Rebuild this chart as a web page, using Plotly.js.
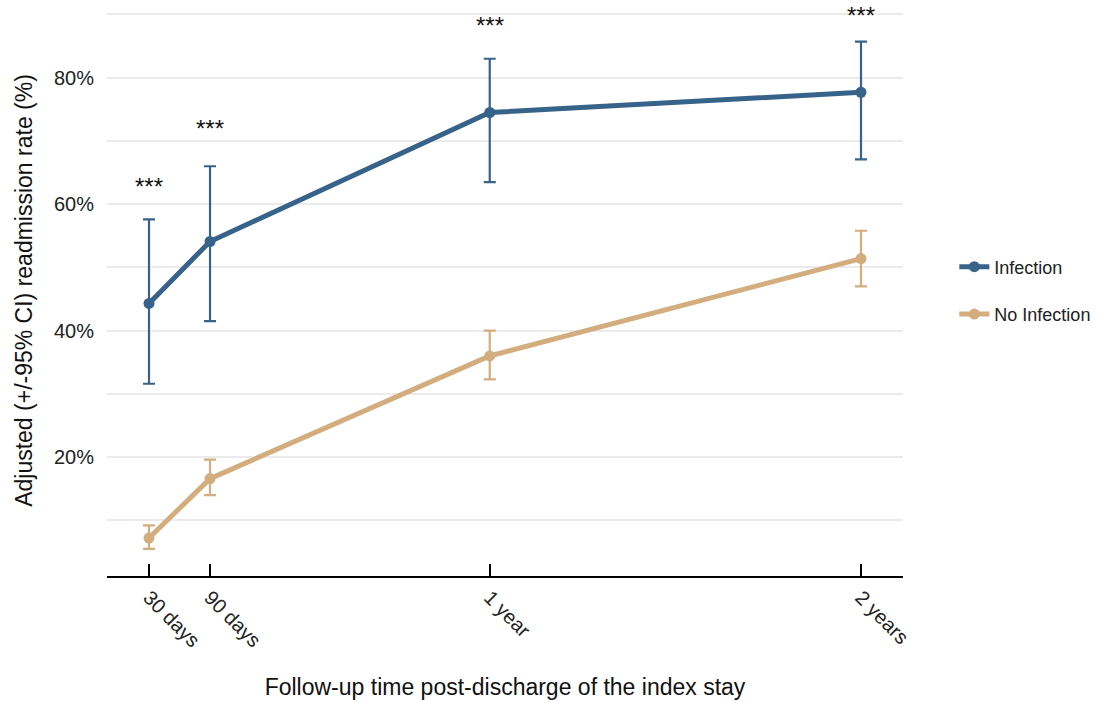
<!DOCTYPE html>
<html>
<head>
<meta charset="utf-8">
<script src="https://cdn.plot.ly/plotly-3.0.1.min.js"></script>
<style>html,body{margin:0;padding:0;background:#fff;}#chart{width:1102px;height:701px;}</style>
</head>
<body>
<div id="chart"></div>
<script>
// Follow-up time in days
const followUpDays = [30, 90, 365, 730];
const tickLabels = ["30 days", "90 days", "1 year", "2 years"];

const infectionRate = [44.3, 54.1, 74.5, 77.7];
const infectionLow = [31.6, 41.5, 63.5, 67.1];
const infectionHigh = [57.6, 66.0, 83.0, 85.7];

const noInfectionRate = [7.2, 16.6, 36.0, 51.4];
const noInfectionLow = [5.5, 14.0, 32.3, 47.0];
const noInfectionHigh = [9.2, 19.6, 40.0, 55.8];

const yTickVals = [20, 40, 60, 80];
const yTickText = ["20%", "40%", "60%", "80%"];

const sigLabels = ["***", "***", "***", "***"];
const sigY = [62.8, 72.0, 88.3, 89.8];

const blue = "#376289";
const tan = "#d3ad7e";
const font = "Liberation Sans, Arial, Helvetica, sans-serif";

function err(v, lo, hi) {
  return {
    type: "data", symmetric: false,
    array: v.map((x, i) => hi[i] - x),
    arrayminus: v.map((x, i) => x - lo[i])
  };
}

const traces = [
  {
    x: followUpDays, y: infectionRate, name: "Infection",
    type: "scatter", mode: "lines+markers",
    line: {color: blue, width: 5}, marker: {color: blue, size: 11},
    error_y: Object.assign(err(infectionRate, infectionLow, infectionHigh), {color: blue, thickness: 2.2, width: 6}),
    legendgroup: "a"
  },
  {
    x: followUpDays, y: noInfectionRate, name: "No Infection",
    type: "scatter", mode: "lines+markers",
    line: {color: tan, width: 5}, marker: {color: tan, size: 11},
    error_y: Object.assign(err(noInfectionRate, noInfectionLow, noInfectionHigh), {color: tan, thickness: 2.2, width: 6}),
    legendgroup: "b"
  }
];

const annotations = followUpDays.map((d, i) => ({
  x: d, y: sigY[i], xref: "x", yref: "y", text: sigLabels[i],
  showarrow: false, font: {family: font, size: 24, color: "#111"}
}));

const layout = {
  width: 1102, height: 701,
  margin: {l: 107, r: 199, t: 5, b: 125, autoexpand: false},
  paper_bgcolor: "#fff", plot_bgcolor: "#fff",
  font: {family: font, color: "#222"},
  showlegend: true,
  legend: {
    xref: "container", x: 0.866, xanchor: "left",
    y: 0.5, yanchor: "middle",
    font: {family: font, size: 18, color: "#222"},
    traceorder: "grouped", tracegroupgap: 21, itemwidth: 30
  },
  xaxis: {
    range: [-11.3, 771.3],
    tickvals: followUpDays, ticktext: tickLabels,
    tickangle: 45,
    tickfont: {family: font, size: 20, color: "#222"},
    ticks: "inside", ticklen: 12, tickwidth: 2, tickcolor: "#000",
    showline: true, linecolor: "#000", linewidth: 2,
    showgrid: false, zeroline: false, automargin: false,
    title: {text: "Follow-up time post-discharge of the index stay", font: {family: font, size: 23, color: "#111"}, standoff: 28}
  },
  yaxis: {
    range: [1.2, 91.5],
    tickvals: yTickVals, ticktext: yTickText,
    tickfont: {family: font, size: 20, color: "#222"},
    ticklabelstandoff: 12,
    showgrid: true, gridcolor: "#ebebeb", gridwidth: 2,
    minor: {tickvals: [10, 30, 50, 70, 90], showgrid: true, gridcolor: "#ebebeb", gridwidth: 2, ticks: ""},
    showline: false, zeroline: false, ticks: "", automargin: false,
    title: {text: "Adjusted (+/-95% CI) readmission rate (%)", font: {family: font, size: 23, color: "#111"}, standoff: 14}
  },
  annotations: annotations
};

Plotly.newPlot("chart", traces, layout, {displayModeBar: false, staticPlot: true});
</script>
</body>
</html>
